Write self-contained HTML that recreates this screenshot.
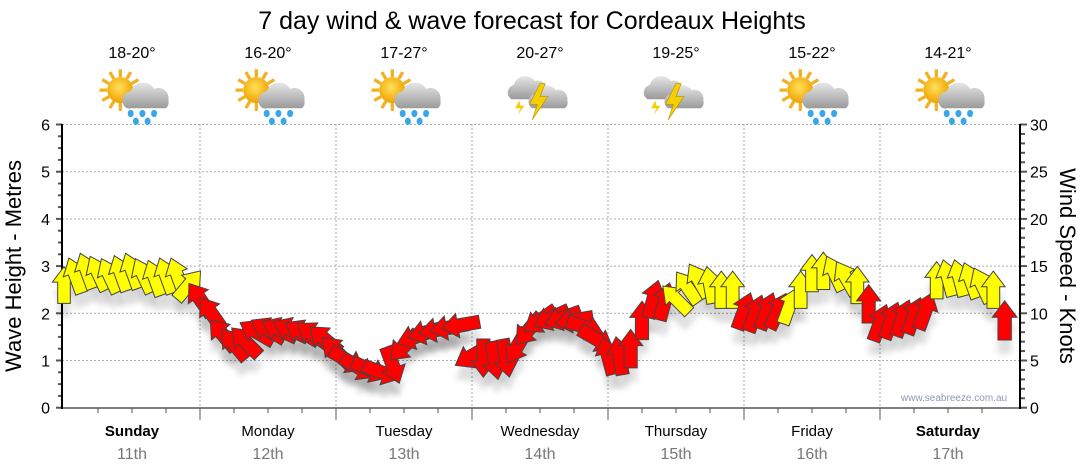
<!DOCTYPE html>
<html><head><meta charset="utf-8"><style>
html,body{margin:0;padding:0;background:#fff;}
svg{display:block;font-family:"Liberation Sans",Arial,sans-serif;}
</style></head><body>
<svg id="chart" width="1080" height="475" viewBox="0 0 1080 475">
<defs>
<filter id="sh" x="-50%" y="-50%" width="200%" height="200%"><feGaussianBlur stdDeviation="3"/></filter>
<radialGradient id="sun" cx="0.45" cy="0.4" r="0.6"><stop offset="0" stop-color="#ffe25a"/><stop offset="1" stop-color="#f0a000"/></radialGradient>
<linearGradient id="cloud" x1="0" y1="0" x2="0" y2="1"><stop offset="0" stop-color="#e6e6e6"/><stop offset="1" stop-color="#9a9a9a"/></linearGradient>
</defs>
<text x="532" y="29" font-size="25" text-anchor="middle" fill="#000">7 day wind &amp; wave forecast for Cordeaux Heights</text>
<g id="grid"></g>
<g id="axes"></g>
<g id="header"></g>
<g id="shadows"></g>
<g id="arrows"></g>
<text x="954" y="401" font-size="10" text-anchor="middle" fill="#8a9ab8">www.seabreeze.com.au</text>
<text transform="translate(21,266) rotate(-90)" font-size="22" text-anchor="middle">Wave Height - Metres</text>
<text transform="translate(1060,266) rotate(90)" font-size="22" text-anchor="middle">Wind Speed - Knots</text>
</svg>
<script>
const days = ["Sunday","Monday","Tuesday","Wednesday","Thursday","Friday","Saturday"];
const dates = ["11th","12th","13th","14th","15th","16th","17th"];
const boldDays = [true,false,false,false,false,false,true];
const temps = ["18-20°","16-20°","17-27°","20-27°","19-25°","15-22°","14-21°"];
const icons = ["rain","rain","rain","storm","storm","rain","rain"];
const waveTicks = [0,1,2,3,4,5,6];
const windTicks = [0,5,10,15,20,25,30];
const waveHeights = [
2.6,2.8,2.9,2.85,2.8,2.85,2.9,2.8,2.75,2.8,2.8,2.6,
2.3,2.0,1.55,1.35,1.4,1.6,1.65,1.65,1.65,1.6,1.55,1.45,
1.2,1.0,0.85,0.8,0.75,0.9,1.3,1.5,1.6,1.65,1.7,1.75,
1.1,1.05,1.0,1.05,1.3,1.65,1.85,1.9,1.9,1.85,1.7,1.45,
1.1,1.1,1.25,1.85,2.3,2.25,2.3,2.55,2.7,2.6,2.5,2.5,
2.05,2.0,2.05,2.05,2.15,2.5,2.85,2.9,2.85,2.75,2.6,2.2,
1.8,1.85,1.9,1.95,2.05,2.7,2.75,2.75,2.7,2.6,2.5,1.85];
const windDir = [
0,-20,-20,-25,-25,-20,-20,-25,-20,-20,-20,40,
-35,-35,-40,-40,-45,-60,-60,-65,-65,-60,-55,-50,
-45,120,120,115,110,160,-135,-110,-105,-100,-100,-100,
-120,180,170,170,-150,-140,-125,-115,-110,-100,110,120,
-15,-10,0,0,15,15,-45,-35,-30,-10,0,0,
20,20,20,25,20,0,0,0,-25,-30,0,0,
20,20,20,20,20,0,-15,-15,-20,-25,0,0];
const windSpeed = [
12,13,13,13,13,13,13,13,13,13,12,12,
16,16,16,16,16,16,16,16,16,16,16,16,
16,16,16,16,16,16,16,16,16,16,16,16,
16,16,16,16,16,16,16,16,16,16,16,16,
16,16,16,16,16,16,13,13,13,13,13,13,
16,16,16,16,13,13,13,13,13,13,13,16,
16,16,16,16,16,13,13,13,13,13,13,18];

const NS="http://www.w3.org/2000/svg";
const X0=64, DW=136, Y0=407.7, PPM=47.2, XR=1020;
const xOf = h => X0 + h*DW/24;
const yW = m => Y0 - m*PPM;
const yK = k => Y0 - k*PPM*6/30;
function mk(tag, attrs, parent){const e=document.createElementNS(NS,tag);for(const k in attrs)e.setAttribute(k,attrs[k]);parent.appendChild(e);return e;}
const grid=document.getElementById('grid'), axes=document.getElementById('axes'), header=document.getElementById('header');

waveTicks.forEach(t=>{
  if(t>0){const l=mk('line',{x1:62,x2:XR,y1:yW(t),y2:yW(t),stroke:'#aaa','stroke-dasharray':'2,2'},grid);
  
  }
  const tx=mk('text',{x:50,y:yW(t)+6,'font-size':16,'text-anchor':'end'},axes);tx.textContent=t;
  
  
});
for(let m=0;m<=24;m++){mk('line',{x1:62,x2:m%4==0?56:58,y1:yW(m/4),y2:yW(m/4),stroke:'#555','stroke-width':2},axes);}
windTicks.forEach(t=>{
  const tx=mk('text',{x:1030,y:yK(t)+6,'font-size':16},axes);tx.textContent=t;
  
  
});
for(let k=0;k<=30;k++){mk('line',{x1:XR,x2:k%5==0?1027:1025,y1:yK(k),y2:yK(k),stroke:'#555','stroke-width':2},axes);}
mk('line',{x1:62,x2:62,y1:124,y2:409,stroke:'#000','stroke-width':2},axes);
mk('line',{x1:XR,x2:XR,y1:124,y2:409,stroke:'#000','stroke-width':2},axes);
mk('line',{x1:62,x2:XR,y1:408,y2:408,stroke:'#000','stroke-width':1},axes);

days.forEach((d,i)=>{
  const xs=xOf(i*24), xc=xOf(i*24+12);
  if(i>0){const l=mk('line',{x1:xs,x2:xs,y1:124,y2:408,stroke:'#aaa','stroke-dasharray':'2,2'},grid);
  
  
  mk('line',{x1:xs,x2:xs,y1:408,y2:420,stroke:'#555'},axes);}
  for(let q=1;q<4;q++){mk('line',{x1:xOf(i*24+q*6),x2:xOf(i*24+q*6),y1:408,y2:413,stroke:'#555'},axes);}
  const dn=mk('text',{x:xc,y:436,'font-size':15,'text-anchor':'middle','font-weight':boldDays[i]?'bold':'normal'},axes);dn.textContent=d;
  
  
  const dt=mk('text',{x:xc,y:459,'font-size':16,'text-anchor':'middle',fill:'#777'},axes);dt.textContent=dates[i];
  
  
  const tp=mk('text',{x:xc,y:58,'font-size':16,'text-anchor':'middle'},header);tp.textContent=temps[i];
  
  
  const g=mk('g',{transform:`translate(${xc},94) scale(1.3)`},header);
  
  
  if(icons[i]=='rain'){
    for(let r=0;r<12;r++){const a=r*Math.PI/6;mk('line',{x1:-9+Math.cos(a)*10,y1:-3+Math.sin(a)*10,x2:-9+Math.cos(a)*16,y2:-3+Math.sin(a)*16,stroke:'#f0b020','stroke-width':2.5},g);}
    mk('circle',{cx:-9,cy:-3,r:10,fill:'url(#sun)'},g);
    mk('path',{d:'M-4,11 a7,7 0 0 1 3,-13 a10,10 0 0 1 18,-2 a8,8 0 0 1 11,9 a6,6 0 0 1 -2,6 z',fill:'url(#cloud)'},g);
    [[-1,15],[8,15],[17,15],[3,21],[12,21]].forEach(p=>mk('ellipse',{cx:p[0],cy:p[1],rx:2.3,ry:2.8,fill:'#39a6e8'},g));
  } else {
    mk('path',{d:'M-22,4 a6,6 0 0 1 2,-11 a9,9 0 0 1 16,-3 a7,7 0 0 1 9,8 a5,5 0 0 1 -2,6 z',fill:'url(#cloud)'},g);
    mk('path',{d:'M-6,11 a6,6 0 0 1 2,-11 a9,9 0 0 1 16,-3 a7,7 0 0 1 9,8 a5,5 0 0 1 -2,6 z',fill:'url(#cloud)'},g);
    mk('path',{d:'M0,-8 L-8,8 L-2,8 L-6,20 L6,2 L0,2 L4,-8 z',fill:'#f5d000',stroke:'#c09000','stroke-width':0.5},g);
    mk('path',{d:'M-16,5 L-19,11 L-15,11 L-17,16 L-12,9 L-15,9 z',fill:'#f5d000'},g);
  }
});

const shadows=document.getElementById('shadows'), arrows=document.getElementById('arrows');
waveHeights.forEach((h,i)=>{
  const x=xOf(i*2), y=yW(h), s=0.85+windSpeed[i]/100;
  const L=38*s, HW=24*s, HL=16*s, SW=13*s;
  const pts=[[0,-L/2],[HW/2,-L/2+HL],[SW/2,-L/2+HL],[SW/2,L/2],[-SW/2,L/2],[-SW/2,-L/2+HL],[-HW/2,-L/2+HL]].map(p=>p.join(',')).join(' ');
  const sh=mk('polygon',{points:pts,fill:'#000',opacity:0.12,filter:'url(#sh)',transform:`translate(${x},${y+14}) rotate(${windDir[i]})`},shadows);
  
  
  const a=mk('polygon',{points:pts,fill:windSpeed[i]>=15?'#ff0000':'#ffff00',stroke:'#444','stroke-width':1,'stroke-linejoin':'miter',transform:`translate(${x},${y}) rotate(${windDir[i]})`},arrows);
  
  
});
</script>
</body></html>
